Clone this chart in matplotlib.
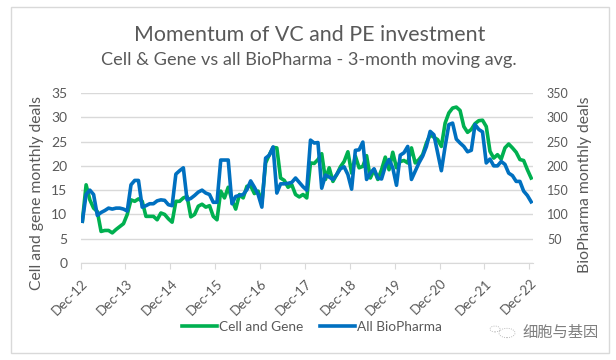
import matplotlib
matplotlib.use('Agg')
import matplotlib.pyplot as plt
import numpy as np
from matplotlib.patches import Rectangle, Circle
from matplotlib.transforms import ScaledTranslation

plt.rcParams['font.family'] = ['Lato', 'Noto Sans CJK SC', 'DejaVu Sans']

GREY = '#595959'
GREEN = '#00b050'
BLUE = '#0070c0'

tick_labels = ['Dec-12', 'Dec-13', 'Dec-14', 'Dec-15', 'Dec-16', 'Dec-17',
               'Dec-18', 'Dec-19', 'Dec-20', 'Dec-21', 'Dec-22']

# monthly deals
cell_gene = [8.6, 16.1, 13.0, 11.3, 10.6, 6.5, 6.7, 6.7, 6.2, 6.9, 7.5, 8.1,
             10.0, 13.0, 12.7, 13.2, 12.7, 9.6, 9.6, 9.6, 8.9, 10.3, 10.0, 9.1,
             8.4, 12.7, 12.7, 13.4, 13.7, 9.5, 10.0, 11.7, 12.1, 11.5, 11.8, 9.6,
             8.9, 14.8, 13.4, 15.6, 13.0, 11.1, 14.1, 13.4, 15.8, 15.9, 14.3, 14.8,
             12.4, 20.6, 22.3, 23.8, 23.7, 17.5, 17.0, 15.6, 16.1, 14.1, 13.6, 14.1,
             13.4, 20.6, 20.5, 21.3, 22.5, 17.2, 19.6, 16.8, 18.2, 19.8, 20.9, 22.9,
             18.5, 22.0, 19.6, 19.9, 22.1, 17.5, 19.2, 17.2, 19.2, 21.8, 19.2, 22.8,
             19.6, 20.9, 21.1, 20.6, 23.7, 20.6, 21.3, 22.3, 24.7, 26.4, 25.9, 25.4,
             24.0, 28.8, 30.9, 31.9, 32.1, 31.4, 28.1, 26.9, 27.5, 28.7, 29.3, 29.4,
             28.1, 23.0, 21.6, 22.3, 21.4, 23.7, 24.5, 23.7, 22.8, 21.3, 21.1, 19.2,
             17.5]

all_biopharma = [86, 141, 150, 141, 98, 104, 108, 113, 111, 113, 113, 111,
                 107, 161, 170, 170, 115, 118, 122, 122, 128, 130, 129, 120,
                 118, 183, 190, 196, 130, 133, 139, 146, 150, 144, 141, 125,
                 125, 212, 212, 212, 122, 137, 139, 141, 151, 169, 156, 141,
                 115, 216, 222, 239, 144, 163, 163, 164, 166, 175, 166, 157,
                 150, 253, 247, 248, 154, 181, 177, 172, 182, 194, 198, 182,
                 152, 232, 233, 249, 172, 185, 194, 175, 173, 199, 213, 196,
                 160, 222, 227, 240, 172, 189, 206, 220, 240, 271, 264, 227,
                 190, 240, 285, 288, 255, 247, 240, 229, 232, 285, 275, 270,
                 206, 214, 200, 200, 209, 203, 185, 180, 168, 168, 148, 139,
                 126]

x = np.arange(len(cell_gene)) + 0.5

fig = plt.figure(figsize=(6.16, 3.6), dpi=100)
fig.patch.set_facecolor('white')
fig.add_artist(Rectangle((11/616, 1-353/360), 598/616, 346/360, transform=fig.transFigure,
                         fill=False, edgecolor='#d9d9d9', linewidth=1))

ax = fig.add_axes([80.5/616, 1-263/360, 452.5/616, 170/360])
ax2 = ax.twinx()
ax.set_xlim(0, len(cell_gene))
ax.set_ylim(0, 35)
ax2.set_ylim(0, 350)

ax.grid(axis='y', color='#d9d9d9', linewidth=1)
ax.set_axisbelow(True)
for a in (ax, ax2):
    for s in a.spines.values():
        s.set_visible(False)
ax.spines['bottom'].set_visible(True)
ax.spines['bottom'].set_color('#d9d9d9')

l1, = ax.plot(x, cell_gene, color=GREEN, linewidth=2.6, solid_joinstyle='round')
l2, = ax2.plot(x, all_biopharma, color=BLUE, linewidth=2.6, solid_joinstyle='round')

ax.set_yticks(range(0, 36, 5))
ax2.set_yticks(range(50, 351, 50))
ax.tick_params(axis='y', length=0, labelsize=10, labelcolor=GREY, pad=9.5)
ax2.tick_params(axis='y', length=0, labelsize=9, labelcolor=GREY, pad=10)
ax.set_xticks(np.arange(0, len(cell_gene), 12))
ax.set_xticklabels(tick_labels, rotation=45, ha='right', rotation_mode='anchor')
ax.tick_params(axis='x', length=4, color='#d9d9d9', labelsize=9.7, labelcolor=GREY, pad=6)
# labels sit a little to the right of their tick
shift = ScaledTranslation(0.5/72, 0, fig.dpi_scale_trans)
for lab in ax.get_xticklabels():
    lab.set_transform(lab.get_transform() + shift)

fig.text(37/616, 1-193/360, 'Cell and gene monthly deals', rotation=90, ha='center', va='center',
         fontsize=11.3, color=GREY)
fig.text(585/616, 1-185/360, 'BioPharma monthly deals', rotation=90, ha='center', va='center',
         fontsize=11.3, color=GREY)

fig.text(310/616, 1-35/360, 'Momentum of VC and PE investment', ha='center', va='center',
         fontsize=15.4, color=GREY)
fig.text(309/616, 1-60/360, 'Cell & Gene vs all BioPharma - 3-month moving avg.', ha='center', va='center',
         fontsize=13.1, color=GREY)

fig.legend([l1, l2], ['Cell and Gene', 'All BioPharma'], loc='center', bbox_to_anchor=(312/616, 1-327/360),
           ncol=2, frameon=False, fontsize=9.8, labelcolor=GREY, handlelength=2.57, handletextpad=0.15,
           columnspacing=1.2)

# watermark
fig.text(522/616, 1-333/360, '细胞与基因', ha='left', va='center', fontsize=11, color='#7f7f7f')
for cx, cy, r in [(495, 329, 5), (507, 333, 8)]:
    fig.add_artist(Circle((cx/616, 1-cy/360), r/616, transform=fig.transFigure, fill=False,
                          edgecolor='#a6a6a6', linewidth=0.6, linestyle=':'))

fig.savefig('out.png', dpi=100)
